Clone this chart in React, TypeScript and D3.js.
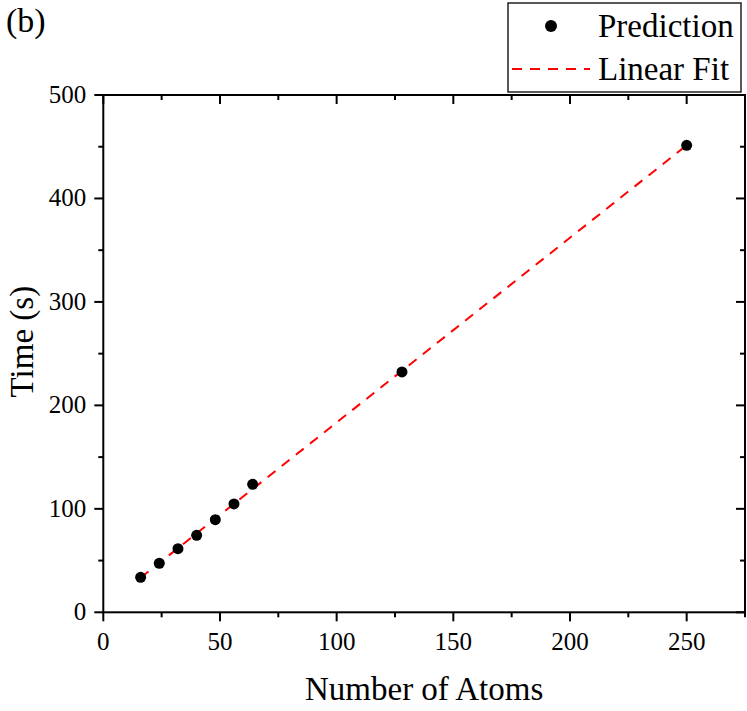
import React, { useEffect, useRef } from "react";
import * as d3 from "d3";

// number of atoms vs predicted time (s)
const atoms = [16, 24, 32, 40, 48, 56, 64, 128, 250];
const times = [33.8, 47.4, 61.5, 74.4, 89.5, 104.7, 123.7, 232.3, 451.4];
const xTicks = [0, 50, 100, 150, 200, 250];
const xMinor = [25, 75, 125, 175, 225, 275];
const yTicks = [0, 100, 200, 300, 400, 500];
const yMinor = [50, 150, 250, 350, 450];
const legendItems = ["Prediction", "Linear Fit"];

const App = () => {
  const ref = useRef<SVGSVGElement>(null);

  useEffect(() => {
    const width = 747;
    const height = 711;
    const margin = { top: 95, right: 2, bottom: 98.7, left: 103.3 };
    const font = "'Liberation Serif', 'Times New Roman', serif";

    const svg = d3.select(ref.current);
    svg.selectAll("*").remove();

    const x = d3.scaleLinear().domain([0, 275]).range([margin.left, width - margin.right]);
    const y = d3.scaleLinear().domain([0, 500]).range([height - margin.bottom, margin.top]);

    // least squares fit of the points
    const mx = d3.mean(atoms) as number;
    const my = d3.mean(times) as number;
    const slope =
      d3.sum(atoms, (a, i) => (a - mx) * (times[i] - my)) / d3.sum(atoms, (a) => (a - mx) ** 2);
    const intercept = my - slope * mx;
    const fitX = [atoms[0], atoms[atoms.length - 1]];

    const x0 = x.range()[0], x1 = x.range()[1];
    const y0 = y.range()[0], y1 = y.range()[1];

    // fit line
    svg
      .append("path")
      .attr("d", d3.line()(fitX.map((a) => [x(a), y(slope * a + intercept)])))
      .attr("fill", "none")
      .attr("stroke", "#ff0000")
      .attr("stroke-width", 2)
      .attr("stroke-dasharray", "10 8");

    svg
      .append("g")
      .selectAll("circle")
      .data(atoms)
      .join("circle")
      .attr("cx", (d) => x(d))
      .attr("cy", (d, i) => y(times[i]))
      .attr("r", 5.5)
      .attr("fill", "#000");

    // frame
    svg
      .append("rect")
      .attr("x", x0)
      .attr("y", y1)
      .attr("width", x1 - x0)
      .attr("height", y0 - y1)
      .attr("fill", "none")
      .attr("stroke", "#000")
      .attr("stroke-width", 2);

    const ticks = svg.append("g").attr("stroke", "#000").attr("stroke-width", 2);
    const major = 9, minor = 5;
    // bottom (out) & top (in)
    xTicks.concat(xMinor).forEach((t) => {
      const len = xTicks.includes(t) ? major : minor;
      ticks.append("line").attr("x1", x(t)).attr("x2", x(t)).attr("y1", y0).attr("y2", y0 + len);
      ticks.append("line").attr("x1", x(t)).attr("x2", x(t)).attr("y1", y1).attr("y2", y1 + len);
    });
    // left (out) & right (in)
    yTicks.concat(yMinor).forEach((t) => {
      const len = yTicks.includes(t) ? major : minor;
      ticks.append("line").attr("x1", x0 - len).attr("x2", x0).attr("y1", y(t)).attr("y2", y(t));
      ticks.append("line").attr("x1", x1 - len).attr("x2", x1).attr("y1", y(t)).attr("y2", y(t));
    });

    svg
      .append("g")
      .selectAll("text")
      .data(xTicks)
      .join("text")
      .attr("x", (d) => x(d))
      .attr("y", y0 + 38)
      .attr("text-anchor", "middle")
      .style("font-family", font)
      .style("font-size", "25px")
      .text((d) => d);

    svg
      .append("g")
      .selectAll("text")
      .data(yTicks)
      .join("text")
      .attr("x", x0 - 17)
      .attr("y", (d) => y(d) + 8)
      .attr("text-anchor", "end")
      .style("font-family", font)
      .style("font-size", "25px")
      .text((d) => d);

    svg
      .append("text")
      .attr("x", (x0 + x1) / 2)
      .attr("y", 700)
      .attr("text-anchor", "middle")
      .style("font-family", font)
      .style("font-size", "33px")
      .text("Number of Atoms");

    svg
      .append("text")
      .attr("transform", `translate(33,${(y0 + y1) / 2 - 12}) rotate(-90)`)
      .attr("text-anchor", "middle")
      .style("font-family", font)
      .style("font-size", "33px")
      .text("Time (s)");

    svg
      .append("text")
      .attr("x", 6)
      .attr("y", 32)
      .style("font-family", font)
      .style("font-size", "34px")
      .text("(b)");

    // legend
    const lg = svg.append("g");
    lg.append("rect")
      .attr("x", 508)
      .attr("y", 3)
      .attr("width", 233)
      .attr("height", 89)
      .attr("fill", "#fff")
      .attr("stroke", "#222")
      .attr("stroke-width", 1.5);
    lg.append("circle").attr("cx", 551).attr("cy", 26).attr("r", 6).attr("fill", "#000");
    lg.append("line")
      .attr("x1", 512)
      .attr("x2", 590)
      .attr("y1", 69)
      .attr("y2", 69)
      .attr("stroke", "#ff0000")
      .attr("stroke-width", 2)
      .attr("stroke-dasharray", "10 8");
    lg.selectAll("text.item")
      .data(legendItems)
      .join("text")
      .attr("class", "item")
      .attr("x", 598)
      .attr("y", (d, i) => 37 + i * 43)
      .style("font-family", font)
      .style("font-size", "33px")
      .text((d) => d);
  }, []);

  return (
    <svg
      ref={ref}
      width={747}
      height={711}
      style={{ position: "absolute", left: 0, top: 0, background: "#fff" }}
    />
  );
};

export default App;
